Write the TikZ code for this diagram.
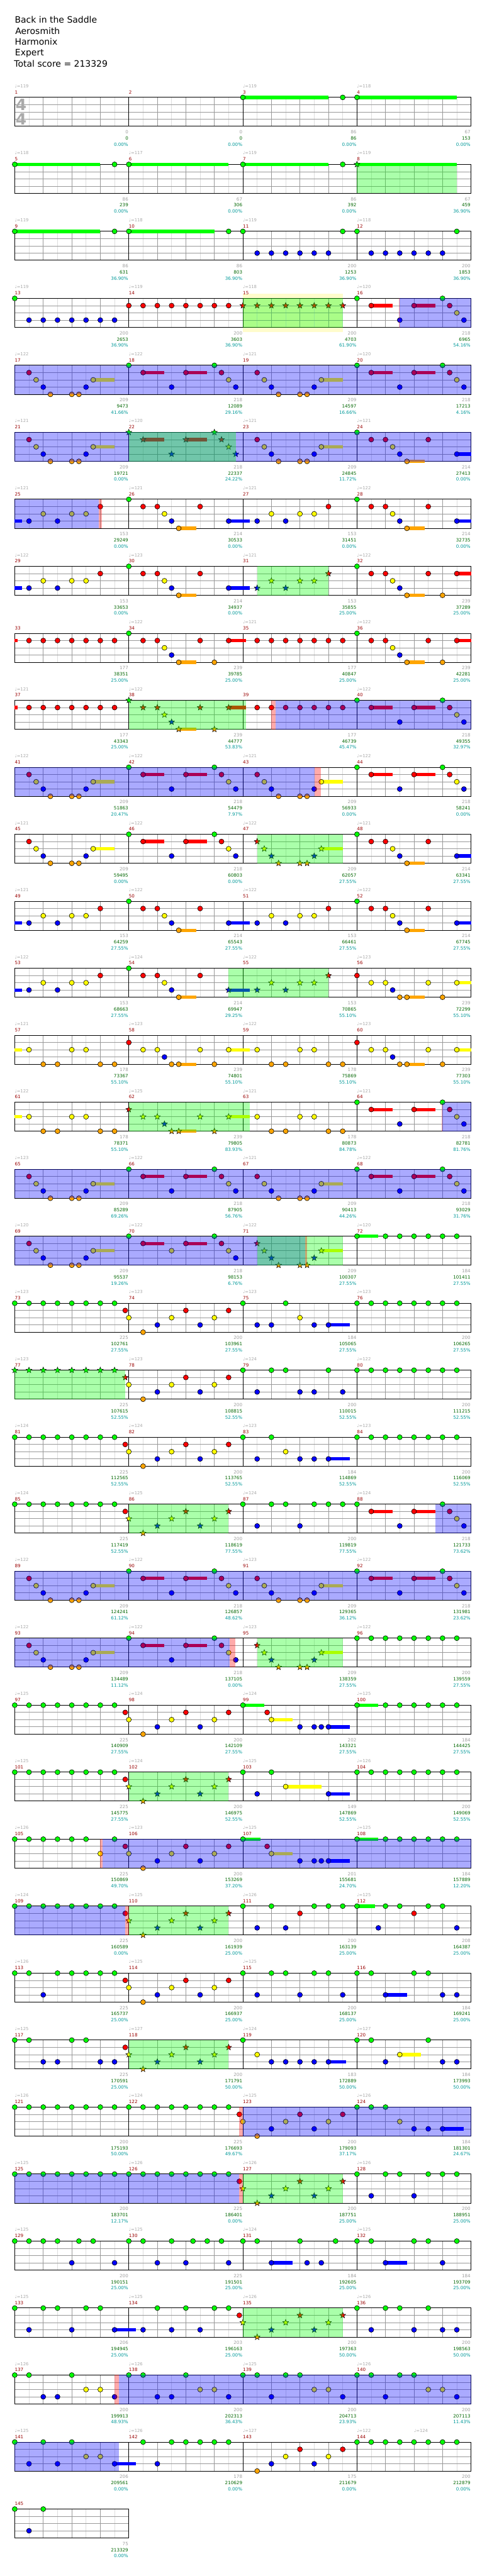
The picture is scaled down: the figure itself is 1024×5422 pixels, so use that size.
\documentclass[tikz,border=0pt]{standalone}
\usepackage{fontspec}
\setmainfont{DejaVu Sans}
\usetikzlibrary{shapes.geometric}
\definecolor{c0}{RGB}{0,255,0}
\definecolor{c1}{RGB}{255,0,0}
\definecolor{c2}{RGB}{255,255,0}
\definecolor{c3}{RGB}{0,0,255}
\definecolor{c4}{RGB}{255,165,0}
\definecolor{lgrid}{RGB}{221,221,221}
\definecolor{dgrid}{RGB}{153,153,153}
\definecolor{tempoc}{RGB}{170,170,170}
\definecolor{numc}{RGB}{153,0,0}
\definecolor{sgray}{RGB}{160,160,160}
\definecolor{sgreen}{RGB}{0,102,0}
\definecolor{steal}{RGB}{0,153,153}
\tikzset{
 nt/.style={circle,draw=black,line width=0.8pt,inner sep=0pt,minimum size=10.5pt},
 stn/.style={star,star points=5,star point ratio=2.3,draw=black,line width=0.7pt,inner sep=0pt,minimum size=13pt},
 bov/.style={fill=blue,fill opacity=0.333},
 gov/.style={fill=green,fill opacity=0.333},
 pov/.style={fill=red,fill opacity=0.333},
 tmp/.style={anchor=base west,inner sep=0pt,text=tempoc,font=\fontsize{9}{10}\selectfont},
 mnum/.style={anchor=base west,inner sep=0pt,text=numc,font=\fontsize{9.5}{10}\selectfont},
 sco/.style={anchor=base east,inner sep=0pt,font=\fontsize{9.5}{10}\selectfont},
 ttl/.style={anchor=base west,inner sep=0pt,font=\fontsize{18.5}{20}\selectfont}
}
\newcommand\morg[1]{\pgfmathtruncatemacro\mcol{mod(#1-1,4)}\pgfmathtruncatemacro\mrow{div(#1-1,4)}\pgfmathsetmacro\mxx{31+240*\mcol}\pgfmathsetmacro\myy{205+141*\mrow}}
\newcommand\Gd[1]{\morg{#1}\begin{scope}[shift={(\mxx,\myy)}]
 \foreach \gx in {30,90,150,210} \draw[lgrid,line width=1pt] (\gx,0)--(\gx,61);
 \foreach \gy in {15.25,30.5,45.75} \draw[dgrid,line width=1pt] (0,\gy)--(240,\gy);
 \foreach \gx in {60,120,180} \draw[dgrid,line width=1pt] (\gx,0)--(\gx,61);
 \draw[black,line width=1.3pt] (0,0) rectangle (240,61);
 \end{scope}}
\newcommand\Nt[2]{\morg{#1}\begin{scope}[shift={(\mxx,\myy)}]\foreach \np/\nl in {#2}{\node[nt,fill=c\nl] at (\np*15,\nl*15.25) {};}\end{scope}}
\newcommand\Ns[2]{\morg{#1}\begin{scope}[shift={(\mxx,\myy)}]\foreach \np/\nl in {#2}{\node[stn,fill=c\nl] at (\np*15,\nl*15.25) {};}\end{scope}}
\newcommand\Su[2]{\morg{#1}\begin{scope}[shift={(\mxx,\myy)}]\foreach \sp/\sl/\se in {#2}{\draw[color=c\sl,line width=7pt] (\sp*15,\sl*15.25)--(\se*15,\sl*15.25);}\end{scope}}
\newcommand\Ov[4]{\morg{#2}\fill[#1] (\mxx+#3*15,\myy) rectangle (\mxx+#4*15,\myy+61);}
\newcommand\Tx[5]{\morg{#1}%
 \ifx\relax#2\relax\else\node[tmp] at (\mxx,\myy-20.5) {♩=#2};\fi
 \node[mnum] at (\mxx,\myy-7.5) {#1};
 \node[sco,text=sgray] at (\mxx+239,\myy+76.5) {#3};
 \node[sco,text=sgreen] at (\mxx+239,\myy+89.5) {#4};
 \node[sco,text=steal] at (\mxx+239,\myy+102.5) {#5\%};}
\newcommand\patA[1]{\Su{#1}{11/2/14}\Nt{#1}{2/1,3/2,4/3,5/4,8/4,9/4,10/3,11/2}}
\newcommand\patAs[1]{\Su{#1}{11/2/14}\Ns{#1}{2/1,3/2,4/3,5/4,8/4,9/4,10/3,11/2}}
\newcommand\patB[1]{\Su{#1}{2/1/5,8/1/11}\Nt{#1}{0/0,2/1,6/3,8/1,12/0,13/1,14/2,15/3}}
\newcommand\patBs[1]{\Su{#1}{2/1/5,8/1/11}\Ns{#1}{0/0,2/1,6/3,8/1,12/0,13/1,14/2,15/3}}
\newcommand\patC[2]{\Su{#1}{7/4/9.5,14/3/#2}\Nt{#1}{0/0,2/1,4/1,5/2,6/3,7/4,10/1,14/3}}
\newcommand\patD[1]{\Nt{#1}{2/3,4/2,6/3,8/2,10/2,12/1}}
\newcommand\patDs[1]{\Ns{#1}{2/3,4/2,6/3,8/2,10/2,12/1}}
\newcommand\patE[2]{\Su{#1}{7/4/9.5,14/1/#2}\Nt{#1}{0/0,2/1,4/1,5/2,6/3,7/4,10/1,12/4,14/1}}
\newcommand\patEs[2]{\Su{#1}{7/4/9.5,14/1/#2}\Ns{#1}{0/0,2/1,4/1,5/2,6/3,7/4,10/1,12/4,14/1}}
\newcommand\patF[1]{\Nt{#1}{2/1,4/1,6/1,8/1,10/1,12/1,14/1}}
\newcommand\patG[2]{\Su{#1}{7/4/9.5,14/2/#2}\Nt{#1}{0/1,2/2,4/2,5/3,6/4,7/4,10/2,12/4,14/2}}
\newcommand\patGs[2]{\Su{#1}{7/4/9.5,14/2/#2}\Ns{#1}{0/1,2/2,4/2,5/3,6/4,7/4,10/2,12/4,14/2}}
\newcommand\patH[1]{\Nt{#1}{2/2,4/4,6/4,8/2,10/2,12/4,14/4}}
\newcommand\patI[1]{\Nt{#1}{0/0,2/0,4/0,6/0,8/0,10/0,12/0,14/0,15.5/1}}
\newcommand\patIs[1]{\Ns{#1}{0/0,2/0,4/0,6/0,8/0,10/0,12/0,14/0,15.5/1}}
\newcommand\patJ[1]{\Nt{#1}{0/2,2/4,4/3,6/2,8/1,10/3,12/2,14/1}}
\newcommand\patJs[1]{\Ns{#1}{0/2,2/4,4/3,6/2,8/1,10/3,12/2,14/1}}
\newcommand\patK[1]{\Nt{#1}{0/0,2/0,4/0,6/0,8/0,10/0,12/0,14/0}}
\begin{document}
\begin{tikzpicture}[x=1pt,y=-1pt]
\useasboundingbox (0,0) rectangle (1024,5422);
\fill[white] (0,0) rectangle (1024,5422);
% title
\node[ttl] (t1) at (31,48.7) {Back in the Saddle};
\node[ttl] (t2) at (32,71.7) {Aerosmith};
\node[ttl] (t3) at (31,94.7) {Harmonix};
\node[ttl] (t4) at (31.5,117.7) {Expert};
\node[ttl] (t5) at (29.5,140.7) {Total score = 213329};
% yellow band
\fill[yellow,fill opacity=0.2] (511,618) rectangle (721,699);
% grids
\foreach \m in {1,...,145}{\Gd{\m}}
\node[text=tempoc,font=\fontsize{33}{33}\selectfont\bfseries,inner sep=0pt] (ts1) at (44.5,220.5) {4};
\node[text=tempoc,font=\fontsize{33}{33}\selectfont\bfseries,inner sep=0pt] (ts2) at (44.5,250.5) {4};
% texts
\Tx{1}{119}{0}{0}{0.00}
\Tx{2}{}{0}{0}{0.00}
\Tx{3}{119}{86}{86}{0.00}
\Tx{4}{118}{67}{153}{0.00}
\Tx{5}{118}{86}{239}{0.00}
\Tx{6}{117}{67}{306}{0.00}
\Tx{7}{119}{86}{392}{0.00}
\Tx{8}{119}{67}{459}{36.90}
\Tx{9}{119}{86}{631}{36.90}
\Tx{10}{118}{86}{803}{36.90}
\Tx{11}{119}{200}{1253}{36.90}
\Tx{12}{118}{200}{1853}{36.90}
\Tx{13}{119}{200}{2653}{36.90}
\Tx{14}{119}{200}{3603}{36.90}
\Tx{15}{118}{200}{4703}{61.90}
\Tx{16}{120}{218}{6965}{54.16}
\Tx{17}{122}{209}{9473}{41.66}
\Tx{18}{122}{218}{12089}{29.16}
\Tx{19}{121}{209}{14597}{16.66}
\Tx{20}{120}{218}{17213}{4.16}
\Tx{21}{121}{209}{19721}{0.00}
\Tx{22}{120}{218}{22337}{24.22}
\Tx{23}{121}{209}{24845}{11.72}
\Tx{24}{121}{214}{27413}{0.00}
\Tx{25}{121}{153}{29249}{0.00}
\Tx{26}{121}{214}{30533}{0.00}
\Tx{27}{121}{153}{31451}{0.00}
\Tx{28}{122}{214}{32735}{0.00}
\Tx{29}{122}{153}{33653}{0.00}
\Tx{30}{123}{214}{34937}{0.00}
\Tx{31}{121}{153}{35855}{25.00}
\Tx{32}{122}{239}{37289}{25.00}
\Tx{33}{}{177}{38351}{25.00}
\Tx{34}{122}{239}{39785}{25.00}
\Tx{35}{121}{177}{40847}{25.00}
\Tx{36}{122}{239}{42281}{25.00}
\Tx{37}{121}{177}{43343}{25.00}
\Tx{38}{122}{239}{44777}{53.83}
\Tx{39}{}{177}{46739}{45.47}
\Tx{40}{122}{218}{49355}{32.97}
\Tx{41}{122}{209}{51863}{20.47}
\Tx{42}{122}{218}{54479}{7.97}
\Tx{43}{121}{209}{56933}{0.00}
\Tx{44}{122}{218}{58241}{0.00}
\Tx{45}{121}{209}{59495}{0.00}
\Tx{46}{122}{218}{60803}{0.00}
\Tx{47}{122}{209}{62057}{27.55}
\Tx{48}{121}{214}{63341}{27.55}
\Tx{49}{121}{153}{64259}{27.55}
\Tx{50}{122}{214}{65543}{27.55}
\Tx{51}{122}{153}{66461}{27.55}
\Tx{52}{122}{214}{67745}{27.55}
\Tx{53}{122}{153}{68663}{27.55}
\Tx{54}{124}{214}{69947}{29.25}
\Tx{55}{122}{153}{70865}{55.10}
\Tx{56}{123}{239}{72299}{55.10}
\Tx{57}{121}{178}{73367}{55.10}
\Tx{58}{123}{239}{74801}{55.10}
\Tx{59}{122}{178}{75869}{55.10}
\Tx{60}{123}{239}{77303}{55.10}
\Tx{61}{122}{178}{78371}{55.10}
\Tx{62}{125}{239}{79805}{83.93}
\Tx{63}{121}{178}{80873}{84.78}
\Tx{64}{121}{218}{82781}{81.76}
\Tx{65}{123}{209}{85289}{69.26}
\Tx{66}{122}{218}{87905}{56.76}
\Tx{67}{121}{209}{90413}{44.26}
\Tx{68}{122}{218}{93029}{31.76}
\Tx{69}{120}{209}{95537}{19.26}
\Tx{70}{122}{218}{98153}{6.76}
\Tx{71}{122}{209}{100307}{27.55}
\Tx{72}{120}{184}{101411}{27.55}
\Tx{73}{123}{225}{102761}{27.55}
\Tx{74}{123}{200}{103961}{27.55}
\Tx{75}{123}{184}{105065}{27.55}
\Tx{76}{123}{200}{106265}{27.55}
\Tx{77}{123}{225}{107615}{52.55}
\Tx{78}{123}{200}{108815}{52.55}
\Tx{79}{124}{200}{110015}{52.55}
\Tx{80}{122}{200}{111215}{52.55}
\Tx{81}{124}{225}{112565}{52.55}
\Tx{82}{124}{200}{113765}{52.55}
\Tx{83}{123}{184}{114869}{52.55}
\Tx{84}{123}{200}{116069}{52.55}
\Tx{85}{124}{225}{117419}{52.55}
\Tx{86}{125}{200}{118619}{77.55}
\Tx{87}{124}{200}{119819}{77.55}
\Tx{88}{124}{218}{121733}{73.62}
\Tx{89}{122}{209}{124241}{61.12}
\Tx{90}{122}{218}{126857}{48.62}
\Tx{91}{123}{209}{129365}{36.12}
\Tx{92}{122}{218}{131981}{23.62}
\Tx{93}{122}{209}{134489}{11.12}
\Tx{94}{122}{218}{137105}{0.00}
\Tx{95}{123}{209}{138359}{27.55}
\Tx{96}{122}{200}{139559}{27.55}
\Tx{97}{125}{225}{140909}{27.55}
\Tx{98}{124}{200}{142109}{27.55}
\Tx{99}{124}{202}{143321}{27.55}
\Tx{100}{125}{184}{144425}{27.55}
\Tx{101}{125}{225}{145775}{27.55}
\Tx{102}{124}{200}{146975}{52.55}
\Tx{103}{125}{149}{147869}{52.55}
\Tx{104}{126}{200}{149069}{52.55}
\Tx{105}{126}{225}{150869}{49.70}
\Tx{106}{123}{200}{153269}{37.20}
\Tx{107}{125}{201}{155681}{24.70}
\Tx{108}{125}{184}{157889}{12.20}
\Tx{109}{124}{225}{160589}{0.00}
\Tx{110}{125}{200}{161939}{25.00}
\Tx{111}{126}{200}{163139}{25.00}
\Tx{112}{125}{208}{164387}{25.00}
\Tx{113}{126}{225}{165737}{25.00}
\Tx{114}{125}{200}{166937}{25.00}
\Tx{115}{125}{200}{168137}{25.00}
\Tx{116}{}{184}{169241}{25.00}
\Tx{117}{125}{225}{170591}{25.00}
\Tx{118}{127}{200}{171791}{50.00}
\Tx{119}{124}{183}{172889}{50.00}
\Tx{120}{127}{184}{173993}{50.00}
\Tx{121}{126}{200}{175193}{50.00}
\Tx{122}{124}{225}{176693}{49.67}
\Tx{123}{125}{200}{179093}{37.17}
\Tx{124}{126}{184}{181301}{24.67}
\Tx{125}{125}{200}{183701}{12.17}
\Tx{126}{126}{225}{186401}{0.00}
\Tx{127}{126}{200}{187751}{25.00}
\Tx{128}{126}{200}{188951}{25.00}
\Tx{129}{125}{200}{190151}{25.00}
\Tx{130}{125}{225}{191501}{25.00}
\Tx{131}{124}{184}{192605}{25.00}
\Tx{132}{125}{184}{193709}{25.00}
\Tx{133}{125}{206}{194945}{25.00}
\Tx{134}{125}{203}{196163}{25.00}
\Tx{135}{126}{200}{197363}{50.00}
\Tx{136}{126}{200}{198563}{50.00}
\Tx{137}{126}{200}{199913}{48.93}
\Tx{138}{126}{200}{202313}{36.43}
\Tx{139}{125}{200}{204713}{23.93}
\Tx{140}{126}{200}{207113}{11.43}
\Tx{141}{125}{206}{209561}{0.00}
\Tx{142}{126}{178}{210629}{0.00}
\Tx{143}{127}{175}{211679}{0.00}
\Tx{144}{122}{200}{212879}{0.00}
\Tx{145}{}{75}{213329}{0.00}
\node[tmp] (tx144b) at (871,5119.5) {♩=124};
% notes
\Su{3}{0/0/12}\Nt{3}{0/0,14/0}
\Su{4}{0/0/14}\Nt{4}{0/0}
\Su{5}{0/0/12}\Nt{5}{0/0,14/0}
\Su{6}{0/0/14}\Nt{6}{0/0}
\Su{7}{0/0/12}\Nt{7}{0/0,14/0}
\Su{8}{0/0/14}\Ns{8}{0/0}
\Su{9}{0/0/12}\Nt{9}{0/0,14/0}
\Su{10}{0/0/12}\Nt{10}{0/0,14/0}
\Nt{11}{0/0,2/3,4/3,6/3,8/3,10/3,12/3,14/0}
\Nt{12}{0/0,2/3,4/3,6/3,8/3,10/3,12/3,14/0}
\Nt{13}{0/0,2/3,4/3,6/3,8/3,10/3,12/3,14/3}
\Nt{14}{0/1,2/1,4/1,6/1,8/1,10/1,12/1,14/1}
\Ns{15}{0/1,2/1,4/1,6/1,8/1,10/1,12/1,14/1}
\patB{16}
\patA{17}\patB{18}\patA{19}\patB{20}
\patA{21}\patBs{22}\patA{23}\patC{24}{16}
\Su{25}{0/3/1}\patD{25}\patC{26}{17}\patD{27}\patC{28}{16}
\Su{29}{0/3/1}\patD{29}\patC{30}{17}\patDs{31}\patE{32}{16}
\Su{33}{0/1/0.4}\patF{33}\patE{34}{16.4}\patF{35}\patE{36}{16}
\Su{37}{0/1/0.4}\patF{37}\patEs{38}{16.4}\patF{39}\patB{40}
\patA{41}\patB{42}\patA{43}\patB{44}
\patA{45}\patB{46}\patAs{47}\patC{48}{16}
\Su{49}{0/3/1}\patD{49}\patC{50}{17}\patD{51}\patC{52}{16}
\Su{53}{0/3/1}\patD{53}
\Su{54}{7/4/9.5,14/3/17}\Nt{54}{0/0,2/1,4/1,5/2,6/3,7/4,10/1}\Ns{54}{14/3}
\patDs{55}\patG{56}{16}
\Su{57}{0/2/1}\patH{57}\patG{58}{17}\patH{59}\patG{60}{16}
\Su{61}{0/2/1}\patH{61}\patGs{62}{17}\patH{63}\patB{64}
\patA{65}\patB{66}\patA{67}\patB{68}
\patA{69}
\Su{70}{2/1/5,8/1/11}\Nt{70}{0/0,2/1,6/2,8/1,12/0,13/1,14/2,15/3}
\patAs{71}
\Su{72}{0/0/3}\Nt{72}{0/0,4/0,6/0,8/0,10/0,12/0,14/0}
\patI{73}\patJ{74}
\Su{75}{12/3/15}\Nt{75}{0/0,2/3,4/3,6/0,8/2,10/3,12/3}
\patK{76}
\patIs{77}\patJ{78}
\Nt{79}{0/0,2/3,4/0,6/0,8/3,10/3,12/0,14/3}
\patK{80}
\patI{81}\patJ{82}
\Su{83}{12/3/15}\Nt{83}{0/0,2/3,4/0,6/2,8/3,10/3,12/3}
\patK{84}
\patI{85}\patJs{86}
\Nt{87}{0/0,2/3,4/0,6/0,8/3,10/0,12/0,14/0}
\patB{88}
\patA{89}\patB{90}\patA{91}\patB{92}
\patA{93}\patB{94}\patAs{95}\patK{96}
\patI{97}\patJ{98}
\Su{99}{0/0/3,4/2/7,12/3/15}\Nt{99}{0/0,3.4/1,4/2,8/3,10/3,11/3,12/3}
\Su{100}{0/0/3}\Nt{100}{0/0,4/0,6/0,8/0,10/0,12/0,14/0}
\patI{101}\patJs{102}
\Su{103}{6/2/11,12/3/15}\Nt{103}{0/0,2/3,4/0,6/2,12/3}
\patK{104}
\Nt{105}{0/0,2/0,4/0,6/0,8/0,10/0,12/2,14/0,15.5/1}
\patJ{106}
\Su{107}{0/0/2.5,4/2/7,12/3/15}\Nt{107}{0/0,3.4/1,4/2,8/3,10/3,11/3,12/3}
\Su{108}{0/0/3}\Nt{108}{0/0,4/0,6/0,8/0,10/0,12/0,14/0}
\patI{109}\patJs{110}
\Nt{111}{0/0,2/3,4/0,6/3,8/1,10/0,12/0,14/0}
\Su{112}{0/0/2.5}\Nt{112}{0/0,3/3,4/0,6/0,8/1,10/0,12/0,14/3}
\Nt{113}{0/0,2/0,4/3,6/0,8/0,10/0,12/0,14/0,15.5/1}
\patJ{114}
\Nt{115}{0/0,2/3,4/0,6/0,8/3,10/0,12/0,14/3}
\Su{116}{4/3/7}\Nt{116}{0/0,2/0,4/3,8/0,10/0,12/3,14/3}
\Nt{117}{0/0,2/0,4/3,6/3,8/0,10/0,12/3,14/3,15.5/1}
\patJs{118}
\Su{119}{12/3/14.5}\Nt{119}{0/0,2/2,4/3,6/3,8/3,10/3,12/3}
\Su{120}{6/2/9}\Nt{120}{0/0,2/0,4/3,6/2,10/0,12/3,14/3}
\patK{121}\patI{122}\patJ{123}
\Su{124}{12/3/15}\Nt{124}{0/0,2/0,4/0,6/2,8/3,10/3,12/3}
\patK{125}\patI{126}\patJs{127}
\Nt{128}{0/0,2/3,4/0,6/0,8/3,10/0,12/0,14/0}
\Nt{129}{0/0,2/0,4/0,6/0,8/3,9/0,11/0,14/3}
\Nt{130}{0/0,2/0,4/3,6/0,8/3,9/0,11/0,13/0,14/3}
\Su{131}{4/3/7}\Nt{131}{0/0,2/0,4/3,8/0,9/3,11/3,13/0}
\Su{132}{4/3/7}\Nt{132}{0/0,2/0,4/3,8/0,10/0,12/3,14/0}
\Su{133}{14/3/17}\Nt{133}{0/0,2/3,4/0,6/0,8/3,10/0,12/0,14/3}
\Nt{134}{2/3,4/0,6/3,8/0,10/3,12/0,14/0,15.5/1}
\patJs{135}
\Nt{136}{0/0,2/3,4/0,6/0,8/3,10/0,12/3,14/3}
\Nt{137}{0/0,2/0,4/3,6/3,8/0,10/2,12/2,14/3}
\Nt{138}{0/0,2/0,4/3,6/3,8/0,10/2,12/2,14/3}
\Nt{139}{0/0,2/0,4/3,6/0,8/0,10/2,12/2,14/3}
\Nt{140}{0/0,2/0,4/3,6/0,8/0,10/2,12/2,14/3}
\Su{141}{14/3/17}\Nt{141}{0/0,2/3,4/0,6/3,8/0,10/2,12/2,14/3}
\Nt{142}{2/0,4/3,6/0,8/0,10/0,12/0,14/0}
\Nt{143}{2/4,4/3,6/2,8/1,10/3,12/2,14/1}
\patK{144}
\Nt{145}{0/0,2/3,4/0}
% overlays
\Ov{gov}{8}{0}{14}
\Ov{gov}{15}{0}{14}
\Ov{pov}{16}{5.85}{6}
\Ov{bov}{16}{6}{16}
\Ov{bov}{17}{0}{64}
\Ov{bov}{21}{0}{64}
\Ov{gov}{22}{0}{15}
\Ov{bov}{25}{0}{11.8}
\Ov{pov}{25}{11.8}{12.2}
\Ov{gov}{31}{2}{12}
\Ov{gov}{38}{0}{16.43}
\Ov{pov}{39}{3.97}{4.6}
\Ov{bov}{39}{4.6}{32}
\Ov{bov}{41}{0}{42.1}
\Ov{pov}{43}{10.1}{10.9}
\Ov{gov}{47}{2}{14}
\Ov{gov}{54}{14}{28}
\Ov{gov}{62}{0}{17}
\Ov{pov}{64}{11.85}{12}
\Ov{bov}{64}{12}{16}
\Ov{bov}{65}{0}{64}
\Ov{bov}{69}{0}{40.7}
\Ov{gov}{71}{2}{14}
\Ov{pov}{71}{8.7}{9}
\Ov{gov}{77}{0}{15.5}
\Ov{gov}{86}{0}{14}
\Ov{bov}{88}{11}{16}
\Ov{bov}{89}{0}{64}
\Ov{bov}{93}{0}{30.15}
\Ov{pov}{94}{14.15}{14.9}
\Ov{gov}{95}{2}{14}
\Ov{gov}{102}{0}{14}
\Ov{pov}{105}{12}{12.3}
\Ov{bov}{105}{12.3}{64}
\Ov{bov}{109}{0}{15.5}
\Ov{pov}{109}{15.5}{16}
\Ov{gov}{110}{0}{14}
\Ov{gov}{118}{0}{14}
\Ov{pov}{122}{15.5}{16}
\Ov{bov}{123}{0}{32}
\Ov{bov}{125}{0}{31.5}
\Ov{pov}{126}{15.5}{16}
\Ov{gov}{127}{0}{14}
\Ov{gov}{135}{0}{14}
\Ov{pov}{137}{14}{14.6}
\Ov{bov}{137}{14.6}{64}
\Ov{bov}{141}{0}{14.6}
\end{tikzpicture}
\end{document}
